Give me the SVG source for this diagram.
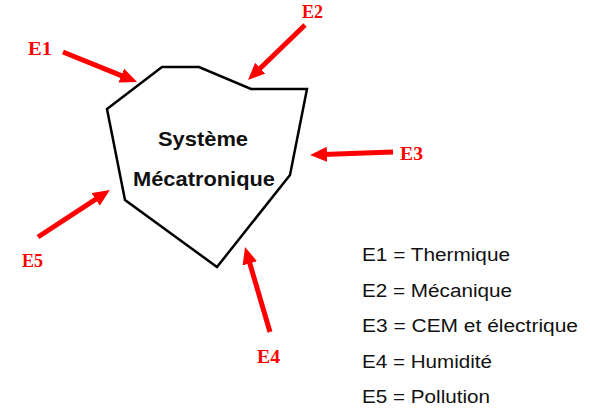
<svg xmlns="http://www.w3.org/2000/svg" width="590" height="411" viewBox="0 0 590 411">
  <style>
    .shape { fill: #ffffff; stroke: #000000; stroke-width: 2.5; stroke-linejoin: miter; }
    .title { font-family: "Liberation Sans", Arial, sans-serif; font-weight: bold; font-size: 21px; fill: #111111; text-anchor: middle; }
    .arrow { stroke: #ff0000; stroke-width: 5; fill: none; marker-end: url(#head); }
    .lbl { font-family: "Liberation Serif", "Times New Roman", serif; font-weight: bold; font-size: 19px; fill: #ff0000; }
    .legend { font-family: "Liberation Sans", Arial, sans-serif; font-size: 18px; fill: #111111; }
  </style>
  <defs>
    <marker id="head" markerUnits="userSpaceOnUse" markerWidth="17" markerHeight="15" refX="4" refY="7.5" orient="auto">
      <path d="M0,0 L17,7.5 L0,15 Z" fill="#ff0000"/>
    </marker>
  </defs>
  <rect width="590" height="411" fill="#ffffff"/>

  <g id="systeme">
    <polygon class="shape" points="107,109 162,67 199,67 251,89 307,89 290,175 217,267 125,200"/>
    <text class="title" x="203" y="146" textLength="90" lengthAdjust="spacingAndGlyphs">Système</text>
    <text class="title" x="204" y="186" textLength="142" lengthAdjust="spacingAndGlyphs">Mécatronique</text>
  </g>

  <g id="connectors">
    <line class="arrow" x1="63" y1="52" x2="125" y2="77.1"/>
    <line class="arrow" x1="305" y1="25" x2="257.4" y2="71"/>
    <line class="arrow" x1="393" y1="152" x2="323" y2="154.5"/>
    <line class="arrow" x1="270" y1="332" x2="248.7" y2="259.5"/>
    <line class="arrow" x1="38" y1="237" x2="99" y2="197.2"/>
  </g>

  <g id="labels">
    <text id="lbl-e1" class="lbl" x="28" y="55" textLength="24" lengthAdjust="spacingAndGlyphs">E1</text>
    <text id="lbl-e2" class="lbl" x="302" y="18" textLength="21" lengthAdjust="spacingAndGlyphs">E2</text>
    <text id="lbl-e3" class="lbl" x="400" y="160" textLength="23" lengthAdjust="spacingAndGlyphs">E3</text>
    <text id="lbl-e4" class="lbl" x="257" y="363" textLength="23" lengthAdjust="spacingAndGlyphs">E4</text>
    <text id="lbl-e5" class="lbl" x="22" y="267" textLength="21" lengthAdjust="spacingAndGlyphs">E5</text>
  </g>

  <g id="legend">
    <text class="legend" x="362" y="261" textLength="148" lengthAdjust="spacingAndGlyphs">E1 = Thermique</text>
    <text class="legend" x="362" y="296.5" textLength="150" lengthAdjust="spacingAndGlyphs">E2 = Mécanique</text>
    <text class="legend" x="362" y="332" textLength="216" lengthAdjust="spacingAndGlyphs">E3 = CEM et électrique</text>
    <text class="legend" x="362" y="367.5" textLength="130" lengthAdjust="spacingAndGlyphs">E4 = Humidité</text>
    <text class="legend" x="362" y="403" textLength="128" lengthAdjust="spacingAndGlyphs">E5 = Pollution</text>
  </g>
</svg>
